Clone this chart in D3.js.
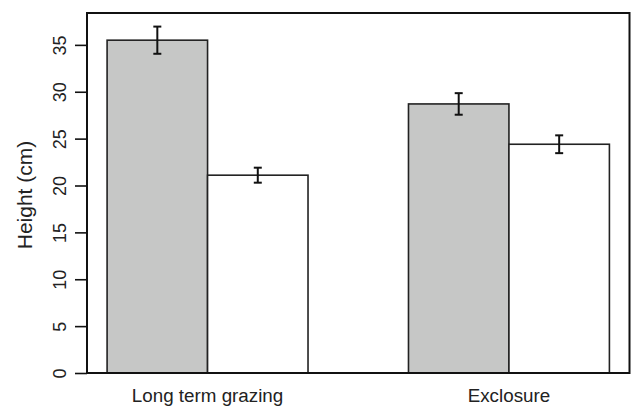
<!DOCTYPE html>
<html>
<head>
<meta charset="utf-8">
<script src="https://cdn.jsdelivr.net/npm/d3@7"></script>
<style>
  body { margin: 0; background: #fff; }
  text { font-family: "Liberation Sans", Arial, sans-serif; fill: #222; }
</style>
</head>
<body>
<svg id="chart" width="632" height="406"></svg>
<script>
// data
var groups = ["Long term grazing", "Exclosure"];
var series = ["grazed", "ungrazed"];
var means = [[35.5, 21.1], [28.7, 24.4]];
var errs = [[1.45, 0.8], [1.15, 0.95]];
var yTicks = [0, 5, 10, 15, 20, 25, 30, 35];
var fills = ["#c6c7c6", "#ffffff"];

var svg = d3.select("#chart");
var boxL = 87, boxR = 629.5, boxT = 13, boxB = 373;

// barplot units: space 1 before each group, bars one unit wide, 4% padding
var x = d3.scaleLinear().domain([0.8, 6.2]).range([boxL, boxR]);
var y = d3.scaleLinear().domain([0, 38.4]).range([boxB, boxT]);

var bars = [];
groups.forEach(function(g, gi){
  series.forEach(function(s, si){
    var x0 = 1 + gi * 3 + si;
    bars.push({g: g, s: si, x0: x0, v: means[gi][si], e: errs[gi][si]});
  });
});

// bars
svg.append("g").selectAll("rect")
  .data(bars).enter()
  .append("rect")
  .attr("x", function(d){ return x(d.x0); })
  .attr("y", function(d){ return y(d.v); })
  .attr("width", function(d){ return x(d.x0 + 1) - x(d.x0); })
  .attr("height", function(d){ return y(0) - y(d.v); })
  .attr("fill", function(d){ return fills[d.s]; })
  .attr("stroke", "#222")
  .attr("stroke-width", 1.6);

// error bars
var eb = svg.append("g")
  .attr("stroke", "#111")
  .attr("stroke-width", 2)
  .attr("fill", "none");

eb.selectAll(".stem")
  .data(bars).enter()
  .append("line")
  .attr("x1", function(d){ return x(d.x0 + 0.5); })
  .attr("x2", function(d){ return x(d.x0 + 0.5); })
  .attr("y1", function(d){ return y(d.v + d.e); })
  .attr("y2", function(d){ return y(d.v - d.e); });

[1, -1].forEach(function(sign){
  eb.selectAll(".cap" + sign)
    .data(bars).enter()
    .append("line")
    .attr("x1", function(d){ return x(d.x0 + 0.5) - 4; })
    .attr("x2", function(d){ return x(d.x0 + 0.5) + 4; })
    .attr("y1", function(d){ return y(d.v + sign * d.e); })
    .attr("y2", function(d){ return y(d.v + sign * d.e); });
});

// plot box
svg.append("rect")
  .attr("x", boxL)
  .attr("y", boxT)
  .attr("width", boxR - boxL)
  .attr("height", boxB - boxT)
  .attr("fill", "none")
  .attr("stroke", "#111")
  .attr("stroke-width", 2);

// y axis
var yAxis = d3.axisLeft(y)
  .tickValues(yTicks)
  .tickSize(12)
  .tickFormat(d3.format("d"));

var ya = svg.append("g")
  .attr("transform", "translate(" + boxL + ",0)")
  .call(yAxis);
ya.select(".domain").remove();
ya.selectAll(".tick line").attr("stroke", "#111").attr("stroke-width", 1.6);
ya.selectAll(".tick text")
  .attr("font-size", 18)
  .attr("x", 0).attr("y", 0)
  .attr("dy", null)
  .attr("text-anchor", "middle")
  .attr("transform", "translate(-21,0) rotate(-90)")
  .style("font-family", "'Liberation Sans', Arial, sans-serif")
  .style("fill", "#222");

// x group labels
svg.append("g").selectAll("text")
  .data(groups).enter()
  .append("text")
  .attr("x", function(d, i){ return x(2 + i * 3); })
  .attr("y", 402)
  .attr("text-anchor", "middle")
  .attr("font-size", 18.8)
  .text(function(d){ return d; });

// y title
svg.append("text")
  .attr("transform", "translate(32,195) rotate(-90)")
  .attr("text-anchor", "middle")
  .attr("font-size", 21)
  .text("Height (cm)");
</script>
</body>
</html>
